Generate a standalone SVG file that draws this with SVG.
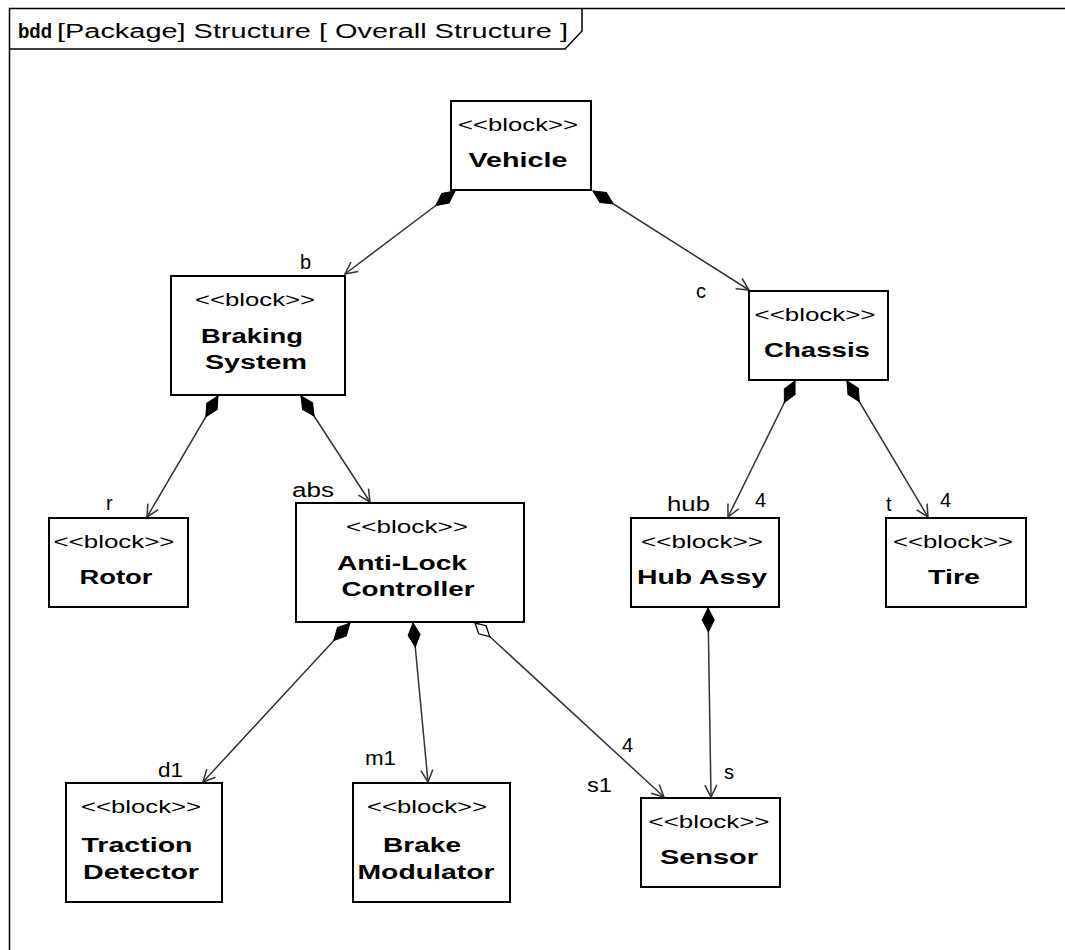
<svg xmlns="http://www.w3.org/2000/svg" width="1065" height="950" viewBox="0 0 1065 950">
<style>
  .frame{fill:none;stroke:#000;stroke-width:1.5}
  .box{fill:#fff;stroke:#000;stroke-width:2}
  text{font-family:"Liberation Sans",Arial,sans-serif;fill:#000}
  .st{font-size:17.5px;text-anchor:middle}
  .nm{font-size:20px;font-weight:bold;text-anchor:middle}
  .lb{font-size:20px}
  .hd{font-size:20px}
  .conn{fill:none;stroke:#333;stroke-width:1.5}
</style>
<defs>
  <marker id="dia" markerUnits="userSpaceOnUse" orient="auto" refX="0" refY="0" markerWidth="26" markerHeight="14" overflow="visible">
    <path d="M0,0 L12,-6 L24,0 L12,6 Z" fill="#000" stroke="#000" stroke-width="1"/>
  </marker>
  <marker id="odia" markerUnits="userSpaceOnUse" orient="auto" refX="0" refY="0" markerWidth="24" markerHeight="14" overflow="visible">
    <path d="M0,0 L10,-5.5 L20,0 L10,5.5 Z" fill="#fff" stroke="#000" stroke-width="1.3"/>
  </marker>
  <marker id="arr" markerUnits="userSpaceOnUse" orient="auto" refX="0" refY="0" markerWidth="14" markerHeight="14" overflow="visible">
    <path d="M-12,-6 L0,0 L-12,6" fill="none" stroke="#333" stroke-width="1.5"/>
  </marker>
</defs>
<rect width="1065" height="950" fill="#fff"/>
<g id="frame">
  <path class="frame" d="M9.5,960 L9.5,8.5 L1070,8.5"/>
  <path class="frame" d="M9.5,49 L565,49 L582,31 L582,8.5"/>
  <text class="hd" x="18" y="38" font-weight="bold" textLength="34" lengthAdjust="spacingAndGlyphs">bdd</text>
  <text class="hd" x="57" y="38" textLength="511" lengthAdjust="spacingAndGlyphs">[Package] Structure [ Overall Structure ]</text>
</g>
<g id="connectors">
  <line class="conn" x1="455" y1="191" x2="345" y2="274" marker-start="url(#dia)" marker-end="url(#arr)"/>
  <line class="conn" x1="593" y1="191" x2="749" y2="290" marker-start="url(#dia)" marker-end="url(#arr)"/>
  <line class="conn" x1="218" y1="396" x2="147" y2="517" marker-start="url(#dia)" marker-end="url(#arr)"/>
  <line class="conn" x1="301" y1="396" x2="370" y2="502" marker-start="url(#dia)" marker-end="url(#arr)"/>
  <line class="conn" x1="795" y1="381" x2="728" y2="517" marker-start="url(#dia)" marker-end="url(#arr)"/>
  <line class="conn" x1="847" y1="381" x2="928" y2="517" marker-start="url(#dia)" marker-end="url(#arr)"/>
  <line class="conn" x1="350" y1="623" x2="203" y2="782" marker-start="url(#dia)" marker-end="url(#arr)"/>
  <line class="conn" x1="413" y1="623" x2="428" y2="782" marker-start="url(#dia)" marker-end="url(#arr)"/>
  <line class="conn" x1="475" y1="623" x2="664" y2="797" marker-start="url(#odia)" marker-end="url(#arr)"/>
  <line class="conn" x1="708" y1="608" x2="711" y2="797" marker-start="url(#dia)" marker-end="url(#arr)"/>
  <text class="lb" x="300" y="269">b</text>
  <text class="lb" x="696" y="298">c</text>
  <text class="lb" x="106" y="510">r</text>
  <text class="lb" x="292" y="497" textLength="42" lengthAdjust="spacingAndGlyphs">abs</text>
  <text class="lb" x="667" y="511" textLength="43" lengthAdjust="spacingAndGlyphs">hub</text>
  <text class="lb" x="755" y="507">4</text>
  <text class="lb" x="886" y="511">t</text>
  <text class="lb" x="940" y="507">4</text>
  <text class="lb" x="158" y="777" textLength="25" lengthAdjust="spacingAndGlyphs">d1</text>
  <text class="lb" x="365" y="765" textLength="31" lengthAdjust="spacingAndGlyphs">m1</text>
  <text class="lb" x="622" y="752">4</text>
  <text class="lb" x="587" y="792" textLength="25" lengthAdjust="spacingAndGlyphs">s1</text>
  <text class="lb" x="724" y="779">s</text>
</g>
<g id="vehicle">
  <rect class="box" x="451" y="101" width="140" height="89"/>
  <text class="st" x="518" y="131" textLength="120" lengthAdjust="spacingAndGlyphs">&lt;&lt;block&gt;&gt;</text>
  <text class="nm" x="518" y="167" textLength="99" lengthAdjust="spacingAndGlyphs">Vehicle</text>
</g>
<g id="braking">
  <rect class="box" x="171" y="276" width="174" height="119"/>
  <text class="st" x="255" y="306" textLength="120" lengthAdjust="spacingAndGlyphs">&lt;&lt;block&gt;&gt;</text>
  <text class="nm" x="252" y="343" textLength="102" lengthAdjust="spacingAndGlyphs">Braking</text>
  <text class="nm" x="256" y="369" textLength="102" lengthAdjust="spacingAndGlyphs">System</text>
</g>
<g id="chassis">
  <rect class="box" x="749" y="291" width="139" height="89"/>
  <text class="st" x="815" y="321" textLength="121" lengthAdjust="spacingAndGlyphs">&lt;&lt;block&gt;&gt;</text>
  <text class="nm" x="817" y="357" textLength="106" lengthAdjust="spacingAndGlyphs">Chassis</text>
</g>
<g id="rotor">
  <rect class="box" x="49" y="518" width="139" height="89"/>
  <text class="st" x="114" y="548" textLength="121" lengthAdjust="spacingAndGlyphs">&lt;&lt;block&gt;&gt;</text>
  <text class="nm" x="116" y="584" textLength="73" lengthAdjust="spacingAndGlyphs">Rotor</text>
</g>
<g id="antilock">
  <rect class="box" x="296" y="503" width="228" height="119"/>
  <text class="st" x="407" y="533" textLength="122" lengthAdjust="spacingAndGlyphs">&lt;&lt;block&gt;&gt;</text>
  <text class="nm" x="402" y="570" textLength="130" lengthAdjust="spacingAndGlyphs">Anti-Lock</text>
  <text class="nm" x="408" y="596" textLength="133" lengthAdjust="spacingAndGlyphs">Controller</text>
</g>
<g id="hub">
  <rect class="box" x="631" y="518" width="148" height="89"/>
  <text class="st" x="702" y="548" textLength="122" lengthAdjust="spacingAndGlyphs">&lt;&lt;block&gt;&gt;</text>
  <text class="nm" x="702" y="584" textLength="130" lengthAdjust="spacingAndGlyphs">Hub Assy</text>
</g>
<g id="tire">
  <rect class="box" x="886" y="518" width="140" height="89"/>
  <text class="st" x="953" y="548" textLength="120" lengthAdjust="spacingAndGlyphs">&lt;&lt;block&gt;&gt;</text>
  <text class="nm" x="954" y="584" textLength="52" lengthAdjust="spacingAndGlyphs">Tire</text>
</g>
<g id="traction">
  <rect class="box" x="66" y="783" width="156" height="119"/>
  <text class="st" x="141" y="813" textLength="120" lengthAdjust="spacingAndGlyphs">&lt;&lt;block&gt;&gt;</text>
  <text class="nm" x="137" y="852" textLength="111" lengthAdjust="spacingAndGlyphs">Traction</text>
  <text class="nm" x="141" y="879" textLength="116" lengthAdjust="spacingAndGlyphs">Detector</text>
</g>
<g id="brake">
  <rect class="box" x="353" y="783" width="157" height="119"/>
  <text class="st" x="427" y="813" textLength="120" lengthAdjust="spacingAndGlyphs">&lt;&lt;block&gt;&gt;</text>
  <text class="nm" x="422" y="852" textLength="78" lengthAdjust="spacingAndGlyphs">Brake</text>
  <text class="nm" x="426" y="879" textLength="137" lengthAdjust="spacingAndGlyphs">Modulator</text>
</g>
<g id="sensor">
  <rect class="box" x="641" y="798" width="139" height="89"/>
  <text class="st" x="709" y="828" textLength="121" lengthAdjust="spacingAndGlyphs">&lt;&lt;block&gt;&gt;</text>
  <text class="nm" x="709" y="864" textLength="98" lengthAdjust="spacingAndGlyphs">Sensor</text>
</g>
</svg>
